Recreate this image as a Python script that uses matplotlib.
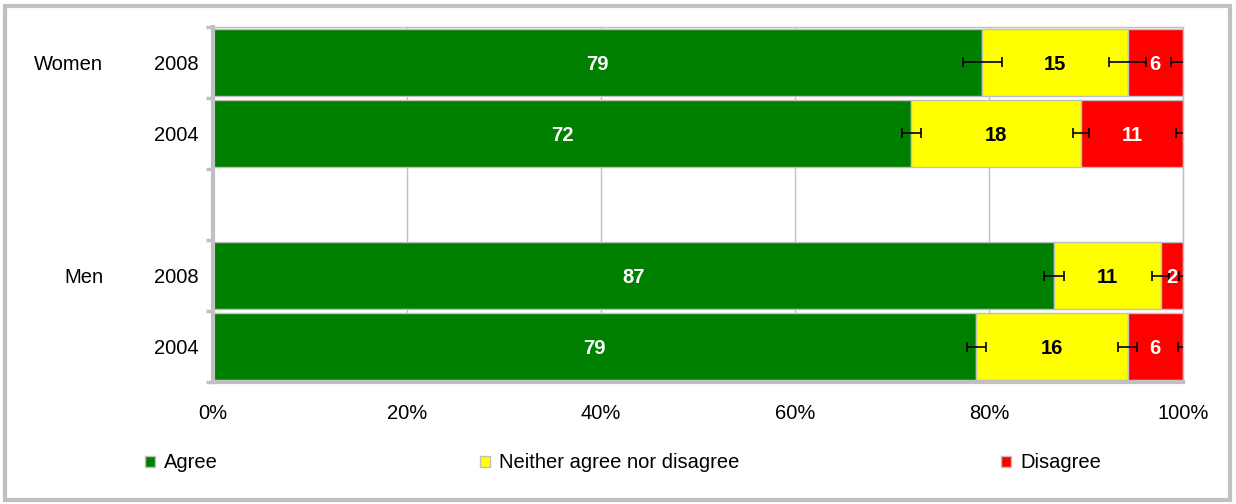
import matplotlib.pyplot as plt
import matplotlib.transforms as transforms
from matplotlib.patches import Rectangle, Patch
import numpy as np

plt.rcParams['font.family'] = ['Liberation Sans', 'DejaVu Sans']

"""Data read off the chart"""
groups = ["Women", "Men"]
years = ["2008", "2004", "", "2008", "2004"]
categories = ["Agree", "Neither agree nor disagree", "Disagree"]

# share of each answer per row (top to bottom), empty row is the gap
agree    = [79.3, 72.0, 0, 86.7, 78.7]
neither  = [15.0, 17.5, 0, 11.0, 15.6]
disagree = [5.7, 10.5, 0, 2.3, 5.7]

agree_lbl    = ["79", "72", "", "87", "79"]
neither_lbl  = ["15", "18", "", "11", "16"]
disagree_lbl = ["6", "11", "", "2", "6"]

# error bar half widths at the end of each segment
agree_err    = [2.0, 1.0, 0, 1.0, 1.0]
neither_err  = [1.9, 0.8, 0, 0.9, 1.0]
disagree_err = [1.2, 0.7, 0, 0.4, 0.5]

colors = ["#008000", "#FFFF00", "#FF0000"]
label_colors = ["white", "black", "white"]
grid_gray = "#c0c0c0"
fs = 14.5

fig = plt.figure(figsize=(12.36, 5.04), dpi=100)
ax = fig.add_axes([213/1236, 1-382/504, 970/1236, 355/504])

ypos = np.arange(len(years))[::-1]  # top row is Women 2008
rows = [i for i in range(len(years)) if years[i] != ""]

segs = [agree, neither, disagree]
lbls = [agree_lbl, neither_lbl, disagree_lbl]
errs = [agree_err, neither_err, disagree_err]

left = np.zeros(len(years))
for k in range(3):
    vals = np.array(segs[k], dtype=float)
    ax.barh(ypos[rows], vals[rows], left=left[rows], height=0.93, color=colors[k],
            edgecolor=grid_gray, linewidth=1, zorder=2)
    ends = left + vals
    ax.errorbar(ends[rows], ypos[rows], xerr=np.array(errs[k])[rows], fmt='none',
                ecolor='black', elinewidth=1.2, capsize=3.8, capthick=1.2, zorder=3)
    for i in rows:
        ax.text(left[i] + vals[i]/2, ypos[i], lbls[k][i], ha='center', va='center_baseline',
                color=label_colors[k], fontsize=14.5, fontweight='bold', zorder=4)
    left = ends

ax.set_xlim(0, 100)
ax.set_ylim(-0.5, len(years) - 0.5)

# x axis
ax.set_xticks([0, 20, 40, 60, 80, 100])
ax.set_xticklabels(["0%", "20%", "40%", "60%", "80%", "100%"])
ax.tick_params(axis='x', length=0, pad=16, labelsize=fs)
ax.xaxis.grid(True, color=grid_gray, linewidth=1, zorder=0)
ax.set_axisbelow(True)

# y axis: ticks at row borders, labels in the middle
ax.set_yticks(np.arange(-0.5, len(years), 1.0))
ax.set_yticklabels([])
ax.tick_params(axis='y', which='major', length=5, width=2.5, color=grid_gray, direction='out')
ax.set_yticks(ypos, minor=True)
ax.set_yticklabels(years, minor=True)
ax.tick_params(axis='y', which='minor', length=0, pad=10, labelsize=fs)
for t in ax.get_yticklabels(minor=True):
    t.set_va('center_baseline')

for s in ['left', 'bottom']:
    ax.spines[s].set_color(grid_gray)
    ax.spines[s].set_linewidth(3)
ax.spines['top'].set_color(grid_gray)
ax.spines['top'].set_linewidth(1)
ax.spines['right'].set_color(grid_gray)
ax.spines['right'].set_linewidth(1)

# group names
tr = transforms.blended_transform_factory(fig.transFigure, ax.transData)
ax.text(103/1236, ypos[0], groups[0], transform=tr, ha='right', va='center_baseline', fontsize=fs)
ax.text(103/1236, ypos[3], groups[1], transform=tr, ha='right', va='center_baseline', fontsize=fs)

# legend
handles = [Patch(facecolor=colors[k], edgecolor=grid_gray, label=categories[k]) for k in range(3)]
fig.legend(handles=handles, loc='center left', bbox_to_anchor=(145/1236, 1-463/504), ncol=3,
           frameon=False, fontsize=fs, handlelength=0.5, handleheight=0.5,
           handletextpad=0.45, columnspacing=13.0, borderaxespad=0, borderpad=0)

# outer frame
fig.patches.append(Rectangle((5/1236, 4/504), 1225/1236, 494/504, transform=fig.transFigure,
                             fill=False, edgecolor=grid_gray, linewidth=3))

plt.savefig("out.png", dpi=100)
